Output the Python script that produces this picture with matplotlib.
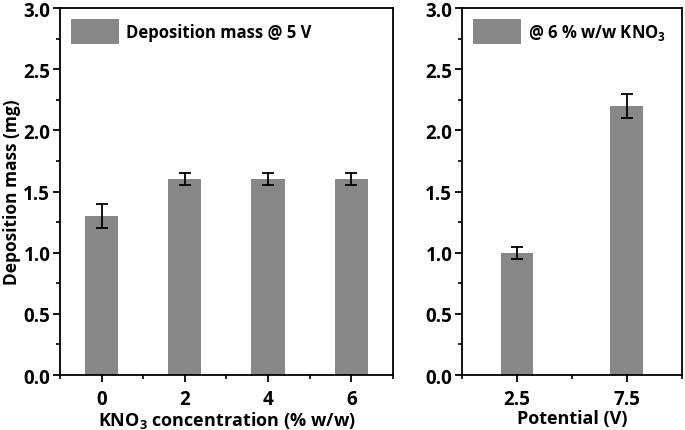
import numpy as np
import matplotlib
matplotlib.use("Agg")
import matplotlib.pyplot as plt
from matplotlib.ticker import MultipleLocator

# left panel: KNO3 concentration at 5 V
conc = [0, 2, 4, 6]
conc_mass = [1.3, 1.6, 1.6, 1.6]
conc_err = [0.1, 0.05, 0.05, 0.05]

# right panel: potential at 6 % w/w KNO3
volt = [2.5, 7.5]
volt_mass = [1.0, 2.2]
volt_err = [0.05, 0.1]

plt.rcParams["font.family"] = ["Open Sans", "DejaVu Sans"]
plt.rcParams["font.weight"] = "bold"
plt.rcParams["axes.labelweight"] = "bold"
plt.rcParams["axes.linewidth"] = 1.3
plt.rcParams["mathtext.fontset"] = "custom"
plt.rcParams["mathtext.bf"] = "Open Sans:bold"
plt.rcParams["mathtext.rm"] = "Open Sans:bold"

BAR = "#878787"
fig = plt.figure(figsize=(6.85, 4.31), dpi=100)
a1 = fig.add_axes([0.0876, 0.1276, 0.486, 0.8515])
a2 = fig.add_axes([0.6745, 0.1276, 0.321, 0.8515])


def style(ax):
    ax.set_ylim(0, 3.0)
    ax.yaxis.set_major_locator(MultipleLocator(0.5))
    ax.yaxis.set_minor_locator(MultipleLocator(0.25))
    ax.tick_params(which="major", direction="out", length=5, width=1.3, labelsize=13.5)
    ax.tick_params(which="minor", direction="out", length=3, width=1.2)
    ax.tick_params(axis="y", pad=2)
    ax.tick_params(axis="x", pad=5)
    for lab in ax.get_xticklabels() + ax.get_yticklabels():
        lab.set_fontweight("bold")


leg_kw = dict(loc="upper left", frameon=False, fontsize=12, handlelength=2.9,
              handleheight=1.9, borderaxespad=0.25, handletextpad=0.4)

a1.bar(conc, conc_mass, width=0.8, color=BAR, label="Deposition mass @ 5 V")
a1.errorbar(conc, conc_mass, yerr=conc_err, fmt="none", ecolor="black",
            elinewidth=1.3, capsize=4, capthick=1.3)
a1.set_xlim(-1, 7)
a1.set_xticks(conc)
a1.xaxis.set_minor_locator(MultipleLocator(1))
style(a1)
a1.set_xlabel("KNO$_\\mathbf{3}$ concentration (% w/w)", fontsize=13, labelpad=0)
a1.set_ylabel("Deposition mass (mg)", fontsize=12.5)
a1.yaxis.set_label_coords(-0.118, 0.5)
a1.legend(**leg_kw)

a2.bar(volt, volt_mass, width=1.5, color=BAR, label="@ 6 % w/w KNO$_\\mathbf{3}$")
a2.errorbar(volt, volt_mass, yerr=volt_err, fmt="none", ecolor="black",
            elinewidth=1.3, capsize=4, capthick=1.3)
a2.set_xlim(0, 10)
a2.set_xticks(volt)
a2.xaxis.set_minor_locator(MultipleLocator(2.5))
style(a2)
a2.set_xlabel("Potential (V)", fontsize=13, labelpad=0)
a2.legend(**leg_kw)

fig.savefig("out.png", dpi=100)
